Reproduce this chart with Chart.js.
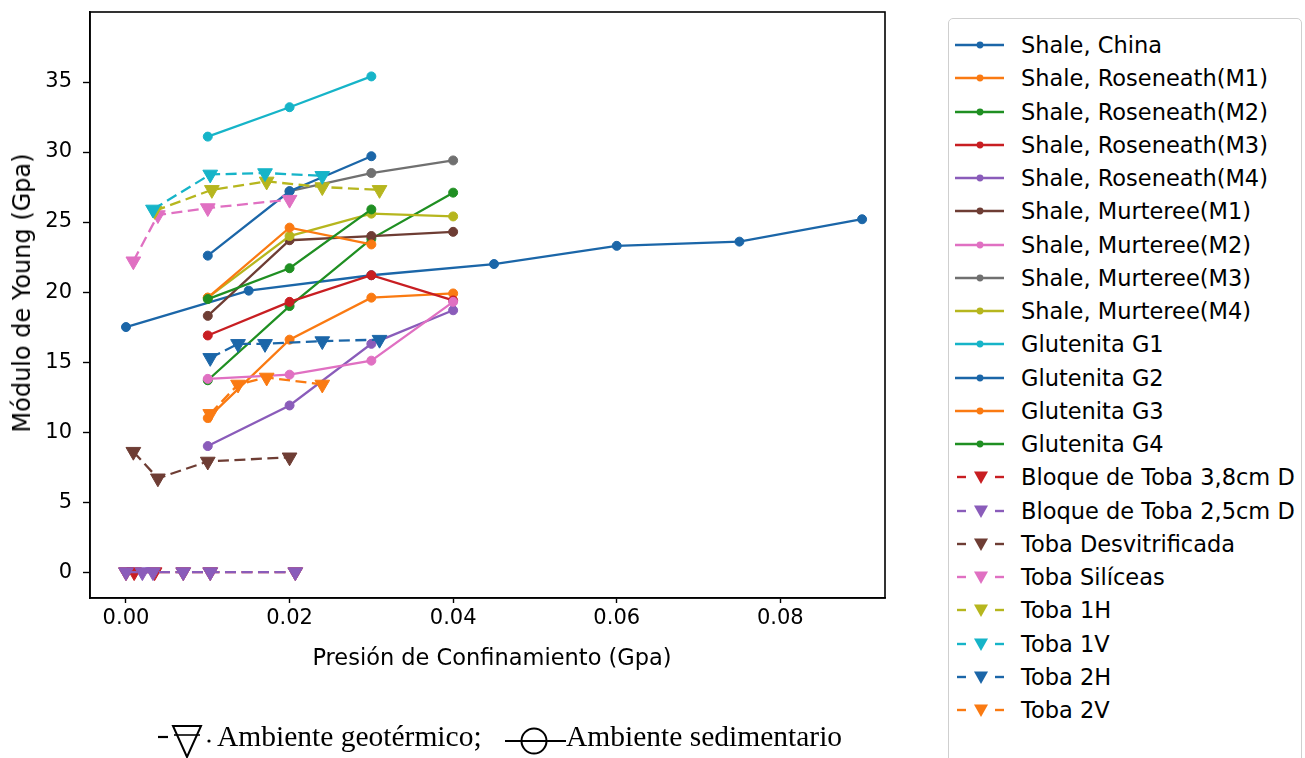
<!DOCTYPE html>
<html>
<head>
<meta charset="utf-8">
<script src="https://cdn.jsdelivr.net/npm/chart.js@4.4.1/dist/chart.umd.min.js"></script>
<style>
  html, body { margin:0; padding:0; background:#fff; }
  #wrap { position:relative; width:1305px; height:758px; overflow:hidden; background:#fff; }
  #c { position:absolute; left:0; top:0; }
  #legend { position:absolute; left:948px; top:18px; width:354px; height:770px; border:1.5px solid #cfcfcf; border-radius:5px; background:#fff; box-sizing:border-box; }
  .item { position:absolute; left:0; height:30px; width:350px; }
  .item svg { position:absolute; left:6px; top:0; }
  .item span { position:absolute; left:72px; top:0; line-height:30px; font-family:"DejaVu Sans", sans-serif; font-size:22.5px; color:#000; white-space:nowrap; }
  #caption { position:absolute; left:0; top:715px; width:900px; height:43px; }
  #caption span { position:absolute; font-family:"Liberation Serif", "Times New Roman", serif; font-size:29.5px; color:#000; top:5px; line-height:1.1; white-space:nowrap; }
  .axt { position:absolute; font-family:"DejaVu Sans", sans-serif; color:#000; white-space:nowrap; line-height:1; }
  #xt { left:492px; top:657px; font-size:22.5px; transform:translate(-50%,-50%); }
  #yt { left:22px; top:293px; font-size:24px; transform:translate(-50%,-50%) rotate(-90deg); }
</style>
</head>
<body>
<div id="wrap">
  <canvas id="c" width="1305" height="758"></canvas>
  <div id="xt" class="axt">Presión de Confinamiento (Gpa)</div>
  <div id="yt" class="axt">Módulo de Young (Gpa)</div>
  <div id="legend"></div>
  <div id="caption">
    <svg width="900" height="43" style="position:absolute;left:0;top:0">
      <line x1="158" y1="22" x2="168" y2="22" stroke="#000" stroke-width="2.2"/>
      <polygon points="173,11 201,11 187,42" fill="none" stroke="#000" stroke-width="2"/>
      <line x1="174" y1="20" x2="200" y2="20" stroke="#000" stroke-width="1.6"/>
      <circle cx="209" cy="26" r="1.6" fill="#000"/>
      <line x1="505" y1="26" x2="566" y2="26" stroke="#000" stroke-width="2.2"/>
      <circle cx="534" cy="26" r="12.5" fill="none" stroke="#000" stroke-width="2"/>
    </svg>
    <span style="left:217px">Ambiente geotérmico;</span>
    <span style="left:566px">Ambiente sedimentario</span>
  </div>
</div>
<script>
// ---------- DATA ----------
const seriesNames = [
  "Shale, China", "Shale, Roseneath(M1)", "Shale, Roseneath(M2)", "Shale, Roseneath(M3)",
  "Shale, Roseneath(M4)", "Shale, Murteree(M1)", "Shale, Murteree(M2)", "Shale, Murteree(M3)",
  "Shale, Murteree(M4)", "Glutenita G1", "Glutenita G2", "Glutenita G3", "Glutenita G4",
  "Bloque de Toba 3,8cm D", "Bloque de Toba 2,5cm D", "Toba Desvitrificada", "Toba Silíceas",
  "Toba 1H", "Toba 1V", "Toba 2H", "Toba 2V"
];

const xShaleChina = [0, 0.015, 0.03, 0.045, 0.06, 0.075, 0.09];
const yShaleChina = [17.5, 20.1, 21.2, 22.0, 23.3, 23.6, 25.2];

const xRoseneath = [0.01, 0.02, 0.03, 0.04];
const yRoseneathM1 = [11.0, 16.6, 19.6, 19.9];
const yRoseneathM2 = [13.7, 19.0, 23.8, 27.1];
const yRoseneathM3 = [16.9, 19.3, 21.2, 19.4];
const yRoseneathM4 = [9.0, 11.9, 16.3, 18.7];

const xMurteree = [0.01, 0.02, 0.03, 0.04];
const yMurtereeM1 = [18.3, 23.7, 24.0, 24.3];
const yMurtereeM2 = [13.8, 14.1, 15.1, 19.3];
const xMurtereeM3 = [0.02, 0.03, 0.04];
const yMurtereeM3 = [27.2, 28.5, 29.4];
const yMurtereeM4 = [19.6, 24.0, 25.6, 25.4];

const xGlutenita = [0.01, 0.02, 0.03];
const yGlutenitaG1 = [31.1, 33.2, 35.4];
const yGlutenitaG2 = [22.6, 27.2, 29.7];
const yGlutenitaG3 = [19.6, 24.6, 23.4];
const yGlutenitaG4 = [19.5, 21.7, 25.9];

const xBloque38 = [0, 0.001, 0.0035, 0.007, 0.0103, 0.0207];
const yBloque38 = [0, 0, 0, 0, 0, 0];
const xBloque25 = [0, 0.002, 0.0033, 0.007, 0.0103, 0.0207];
const yBloque25 = [0, 0, 0, 0, 0, 0];

const xTobaDesv = [0.0009, 0.0039, 0.01, 0.02];
const yTobaDesv = [8.6, 6.7, 7.9, 8.2];
const xTobaSil = [0.0009, 0.0039, 0.01, 0.02];
const yTobaSil = [22.2, 25.5, 26.0, 26.6];

const xToba1H = [0.0035, 0.0105, 0.0172, 0.024, 0.031];
const yToba1H = [25.8, 27.3, 27.9, 27.5, 27.3];
const xToba1V = [0.0033, 0.0103, 0.017, 0.024];
const yToba1V = [25.9, 28.4, 28.5, 28.3];
const xToba2H = [0.0103, 0.0137, 0.017, 0.024, 0.031];
const yToba2H = [15.3, 16.3, 16.3, 16.5, 16.6];
const xToba2V = [0.0103, 0.0137, 0.0172, 0.024];
const yToba2V = [11.3, 13.4, 13.9, 13.4];

const xTicks = [0, 0.02, 0.04, 0.06, 0.08];
const yTicks = [0, 5, 10, 15, 20, 25, 30, 35];

// ---------- STYLE ----------
const C = {
  blue:'#1b66a8', orange:'#fa7a12', green:'#1f8f22', red:'#c81e22', purple:'#8a5cba',
  brown:'#6e3d34', pink:'#e070c2', gray:'#707070', olive:'#b6b61e', cyan:'#16b4c8'
};
const seriesSpec = [
  [xShaleChina, yShaleChina, C.blue, 'o'],
  [xRoseneath, yRoseneathM1, C.orange, 'o'],
  [xRoseneath, yRoseneathM2, C.green, 'o'],
  [xRoseneath, yRoseneathM3, C.red, 'o'],
  [xRoseneath, yRoseneathM4, C.purple, 'o'],
  [xMurteree, yMurtereeM1, C.brown, 'o'],
  [xMurteree, yMurtereeM2, C.pink, 'o'],
  [xMurtereeM3, yMurtereeM3, C.gray, 'o'],
  [xMurteree, yMurtereeM4, C.olive, 'o'],
  [xGlutenita, yGlutenitaG1, C.cyan, 'o'],
  [xGlutenita, yGlutenitaG2, C.blue, 'o'],
  [xGlutenita, yGlutenitaG3, C.orange, 'o'],
  [xGlutenita, yGlutenitaG4, C.green, 'o'],
  [xBloque38, yBloque38, C.red, 'v'],
  [xBloque25, yBloque25, C.purple, 'v'],
  [xTobaDesv, yTobaDesv, C.brown, 'v'],
  [xTobaSil, yTobaSil, C.pink, 'v'],
  [xToba1H, yToba1H, C.olive, 'v'],
  [xToba1V, yToba1V, C.cyan, 'v'],
  [xToba2H, yToba2H, C.blue, 'v'],
  [xToba2V, yToba2V, C.orange, 'v']
];

const N = seriesSpec.length;
const datasets = seriesSpec.map((s, i) => {
  const [xs, ys, col, mk] = s;
  const tri = mk === 'v';
  return {
    label: seriesNames[i],
    data: xs.map((x, k) => ({x: x, y: ys[k]})),
    borderColor: col,
    backgroundColor: col,
    borderWidth: 2.3,
    borderDash: tri ? [11, 5.5] : [],
    pointStyle: tri ? 'triangle' : 'circle',
    rotation: tri ? 180 : 0,
    pointRadius: tri ? 8.5 : 4.5,
    pointBorderWidth: 1,
    pointBackgroundColor: col,
    pointBorderColor: col,
    tension: 0,
    fill: false,
    order: N - i
  };
});

// ---------- LEGEND (HTML) ----------
const leg = document.getElementById('legend');
seriesSpec.forEach((s, i) => {
  const col = s[2], tri = s[3] === 'v';
  const cy = 44 + i * 33.25 - 18 - 15;
  const d = document.createElement('div');
  d.className = 'item';
  d.style.top = cy + 'px';
  let svg;
  if (tri) {
    svg = `<svg width="52" height="30"><line x1="2" y1="15" x2="11" y2="15" stroke="${col}" stroke-width="2.4"/>
      <line x1="40" y1="15" x2="49" y2="15" stroke="${col}" stroke-width="2.4"/>
      <polygon points="19,9.5 33,9.5 26,22" fill="${col}"/></svg>`;
  } else {
    svg = `<svg width="52" height="30"><line x1="0" y1="15" x2="49" y2="15" stroke="${col}" stroke-width="2.4"/>
      <circle cx="25" cy="15" r="3.4" fill="${col}"/></svg>`;
  }
  d.innerHTML = svg + `<span>${seriesNames[i]}</span>`;
  leg.appendChild(d);
});

// ---------- CHART ----------
const frame = {
  id: 'frame',
  afterDatasetsDraw(chart) {
    const {ctx, chartArea: a} = chart;
    ctx.save();
    ctx.strokeStyle = '#000';
    ctx.lineWidth = 1.6;
    ctx.strokeRect(a.left, a.top, a.right - a.left, a.bottom - a.top);
    ctx.restore();
  }
};

new Chart(document.getElementById('c'), {
  type: 'line',
  data: { datasets: datasets },
  plugins: [frame],
  options: {
    responsive: false,
    devicePixelRatio: 1,
    animation: false,
    layout: { padding: { left: 0, top: 12, right: 420, bottom: 85 } },
    plugins: { legend: { display: false }, tooltip: { enabled: false } },
    scales: {
      x: {
        type: 'linear',
        min: -0.0044, max: 0.0928,
        afterBuildTicks: (sc) => { sc.ticks = xTicks.map(v => ({value: v})); },
        afterFit: (sc) => { sc.height = 75; sc.paddingLeft = 0; sc.paddingRight = 0; },
        grid: { drawOnChartArea: false, drawTicks: true, tickLength: 5, tickColor: '#000', tickWidth: 1.4 },
        border: { display: true, color: '#000', width: 1.6 },
        ticks: {
          color: '#000', padding: 3, maxRotation: 0, autoSkip: false,
          font: { family: 'DejaVu Sans', size: 21 },
          callback: (v) => Number(v).toFixed(2)
        },
        title: { display: false }
      },
      y: {
        type: 'linear',
        min: -1.85, max: 40,
        afterBuildTicks: (sc) => { sc.ticks = yTicks.map(v => ({value: v})); },
        afterFit: (sc) => { sc.width = 90; sc.paddingTop = 0; sc.paddingBottom = 0; },
        grid: { drawOnChartArea: false, drawTicks: true, tickLength: 7, tickColor: '#000', tickWidth: 1.4 },
        border: { display: true, color: '#000', width: 1.6 },
        ticks: {
          color: '#000', padding: 11, autoSkip: false,
          font: { family: 'DejaVu Sans', size: 21 },
          callback: (v) => String(v)
        },
        title: { display: false }
      }
    }
  }
});
</script>
</body>
</html>
